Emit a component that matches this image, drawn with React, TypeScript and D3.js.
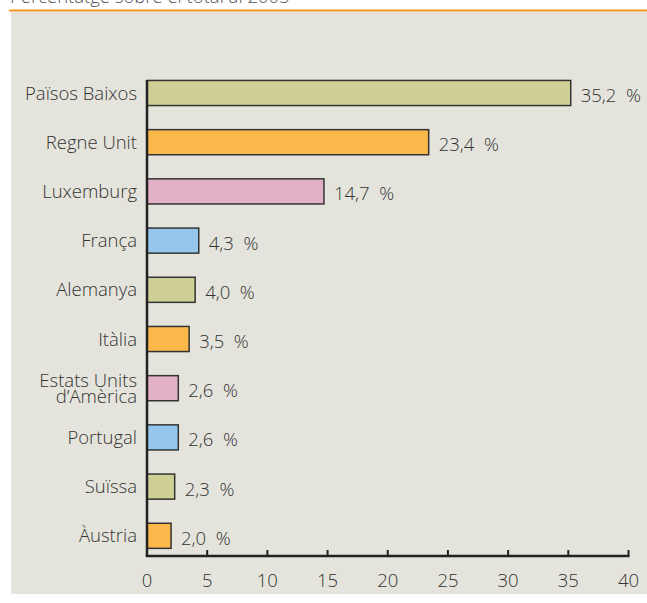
import { useEffect, useRef } from 'react';
import * as d3 from 'd3';

const categories = [
  'Països Baixos',
  'Regne Unit',
  'Luxemburg',
  'França',
  'Alemanya',
  'Itàlia',
  'Estats Units\nd’Amèrica',
  'Portugal',
  'Suïssa',
  'Àustria',
];
const values = [35.2, 23.4, 14.7, 4.3, 4.0, 3.5, 2.6, 2.6, 2.3, 2.0];
const colors = ['#cfd095', '#fbb94b', '#e2b0c7', '#94c7eb', '#cfd095', '#fbb94b', '#e2b0c7', '#94c7eb', '#cfd095', '#fbb94b'];
const xTicks = [0, 5, 10, 15, 20, 25, 30, 35, 40];
const title = 'Percentatge sobre el total al 2005';

const W = 647;
const H = 603;
const FONT = '"Open Sans", "Noto Sans", sans-serif';
const FS = 18.5;

const App: React.FC = () => {
  const svgRef = useRef<SVGSVGElement>(null);

  useEffect(() => {
    const svg = d3.select(svgRef.current);
    svg.selectAll('*').remove();

    const x = d3.scaleLinear().domain([0, 40]).range([147, 628.5]);
    const y = d3
      .scaleBand<string>()
      .domain(categories)
      .range([68.4, 560.4])
      .paddingInner(0.49)
      .paddingOuter(0.245);
    const axisY = 556;

    // títol tallat a dalt
    svg.append('text')
      .attr('x', 10)
      .attr('y', 3)
      .attr('font-family', FONT)
      .attr('font-weight', 300)
      .attr('font-size', FS)
      .attr('fill', '#555')
      .text(title);

    svg.append('line')
      .attr('x1', 9).attr('x2', W)
      .attr('y1', 10.5).attr('y2', 10.5)
      .attr('stroke', '#f39325')
      .attr('stroke-width', 2);

    svg.append('rect')
      .attr('x', 11).attr('y', 12)
      .attr('width', W - 11).attr('height', 582)
      .attr('fill', '#e5e4dc');

    const g = svg.append('g')
      .attr('font-family', FONT)
      .attr('font-weight', 300)
      .attr('font-size', FS);

    g.selectAll('rect.bar')
      .data(values)
      .join('rect')
      .attr('class', 'bar')
      .attr('x', x(0))
      .attr('y', (d, i) => y(categories[i])!)
      .attr('width', d => x(d) - x(0))
      .attr('height', y.bandwidth())
      .attr('fill', (d, i) => colors[i])
      .attr('stroke', '#333')
      .attr('stroke-width', 1.5);

    g.selectAll('text.val')
      .data(values)
      .join('text')
      .attr('class', 'val')
      .attr('x', d => x(d) + 10)
      .attr('y', (d, i) => y(categories[i])! + y.bandwidth() / 2 + 9)
      .attr('fill', '#333')
      .text(d => d.toFixed(1).replace('.', ',') + '\u00a0\u00a0%');

    categories.forEach((c) => {
      const lines = c.split('\n');
      const cy = y(c)! + y.bandwidth() / 2;
      const t = g.append('text')
        .attr('text-anchor', 'end')
        .attr('fill', '#333');
      lines.forEach((l, j) => {
        t.append('tspan')
          .attr('x', 137)
          .attr('y', cy + 6.5 + (j - (lines.length - 1) / 2) * 16)
          .text(l);
      });
    });

    // eixos
    g.append('line')
      .attr('x1', x(0)).attr('x2', x(0))
      .attr('y1', 80).attr('y2', axisY)
      .attr('stroke', '#222')
      .attr('stroke-width', 2.5);

    g.append('line')
      .attr('x1', x(0) - 1.25).attr('x2', x(40) + 1)
      .attr('y1', axisY).attr('y2', axisY)
      .attr('stroke', '#222')
      .attr('stroke-width', 2.5);

    g.selectAll('line.tick')
      .data(xTicks.slice(1))
      .join('line')
      .attr('class', 'tick')
      .attr('x1', d => x(d)).attr('x2', d => x(d))
      .attr('y1', axisY).attr('y2', axisY - 6)
      .attr('stroke', '#222')
      .attr('stroke-width', 2);

    g.selectAll('text.tl')
      .data(xTicks)
      .join('text')
      .attr('class', 'tl')
      .attr('x', d => x(d))
      .attr('y', 587)
      .attr('text-anchor', 'middle')
      .attr('fill', '#333')
      .text(d => String(d));
  }, []);

  return (
    <svg
      ref={svgRef}
      width={W}
      height={H}
      style={{ position: 'absolute', left: 0, top: 0, background: '#fff' }}
    />
  );
};

export default App;
